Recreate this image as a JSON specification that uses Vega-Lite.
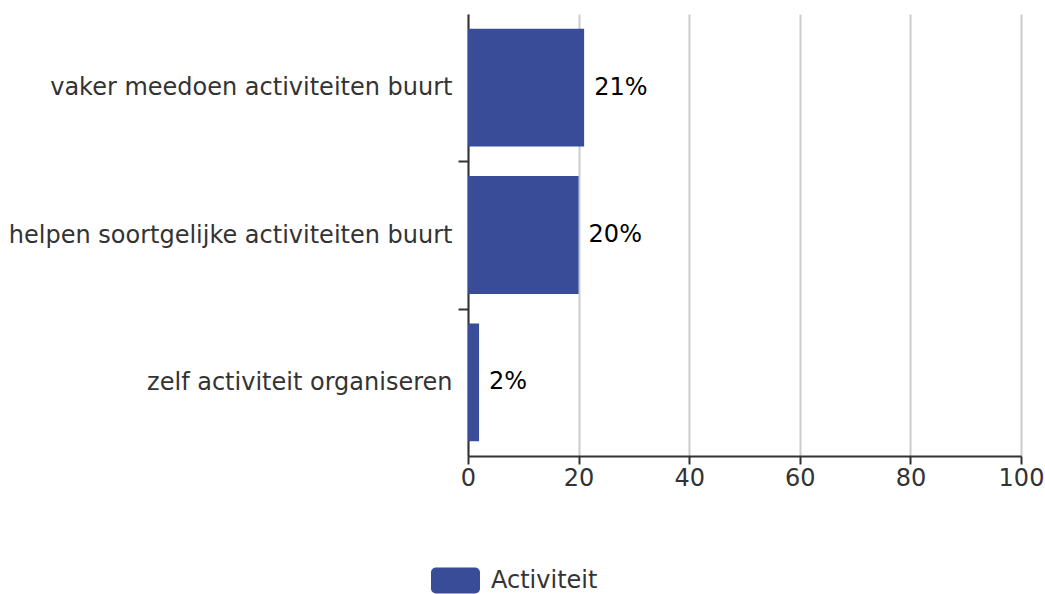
{
  "$schema": "https://vega.github.io/schema/vega-lite/v6.json",
  "width": 553,
  "height": 442,
  "padding": {"left": 8, "top": 14, "right": 5, "bottom": 5},
  "background": "white",
  "config": {
    "font": "DejaVu Sans",
    "view": {"stroke": null}
  },
  "data": {
    "values": [
      {"categorie": "vaker meedoen activiteiten buurt", "waarde": 21, "label": "21%", "reeks": "Activiteit"},
      {"categorie": "helpen soortgelijke activiteiten buurt", "waarde": 20, "label": "20%", "reeks": "Activiteit"},
      {"categorie": "zelf activiteit organiseren", "waarde": 2, "label": "2%", "reeks": "Activiteit"}
    ]
  },
  "encoding": {
    "y": {
      "field": "categorie",
      "type": "nominal",
      "sort": null,
      "title": null,
      "scale": {"paddingInner": 0, "paddingOuter": 0},
      "axis": {
        "labelFontSize": 24,
        "labelColor": "#333333",
        "labelPadding": 6,
        "labelLimit": 600,
        "tickSize": 10,
        "tickColor": "#333333",
        "tickWidth": 2,
        "tickOffset": 73.67,
        "labelOffset": -73.67,
        "tickOpacity": {"condition": {"test": "datum.value === 'zelf activiteit organiseren'", "value": 0}, "value": 1},
        "domainColor": "#333333",
        "domainWidth": 2,
        "grid": false
      }
    },
    "x": {
      "field": "waarde",
      "type": "quantitative",
      "title": null,
      "scale": {"domain": [0, 100], "nice": false},
      "axis": {
        "values": [0, 20, 40, 60, 80, 100],
        "labelFontSize": 24,
        "labelColor": "#333333",
        "labelPadding": 2,
        "tickSize": 8,
        "tickColor": "#333333",
        "tickWidth": 2,
        "domainColor": "#333333",
        "domainWidth": 2,
        "grid": true,
        "gridColor": "#cccccc",
        "gridWidth": 2,
        "labelFlush": false
      }
    }
  },
  "layer": [
    {
      "mark": {"type": "bar", "height": {"band": 0.8}},
      "encoding": {
        "color": {
          "field": "reeks",
          "type": "nominal",
          "scale": {"range": ["#384c97"]},
          "legend": {
            "title": null,
            "orient": "none",
            "legendX": -37,
            "legendY": 542,
            "padding": 0,
            "labelFontSize": 24,
            "labelColor": "#333333",
            "symbolType": "M-0.8,-0.53H0.8A0.2,0.2 0 0 1 1,-0.33V0.33A0.2,0.2 0 0 1 0.8,0.53H-0.8A0.2,0.2 0 0 1 -1,0.33V-0.33A0.2,0.2 0 0 1 -0.8,-0.53Z",
            "symbolSize": 2401,
            "symbolStrokeWidth": 0,
            "symbolOpacity": 1,
            "labelOffset": 11
          }
        }
      }
    },
    {
      "mark": {"type": "text", "align": "left", "baseline": "middle", "dx": 10, "fontSize": 24, "stroke": "white", "strokeWidth": 4, "strokeJoin": "round", "fill": "white"},
      "encoding": {"text": {"field": "label"}}
    },
    {
      "mark": {"type": "text", "align": "left", "baseline": "middle", "dx": 10, "fontSize": 24, "fill": "black"},
      "encoding": {"text": {"field": "label"}}
    }
  ]
}
